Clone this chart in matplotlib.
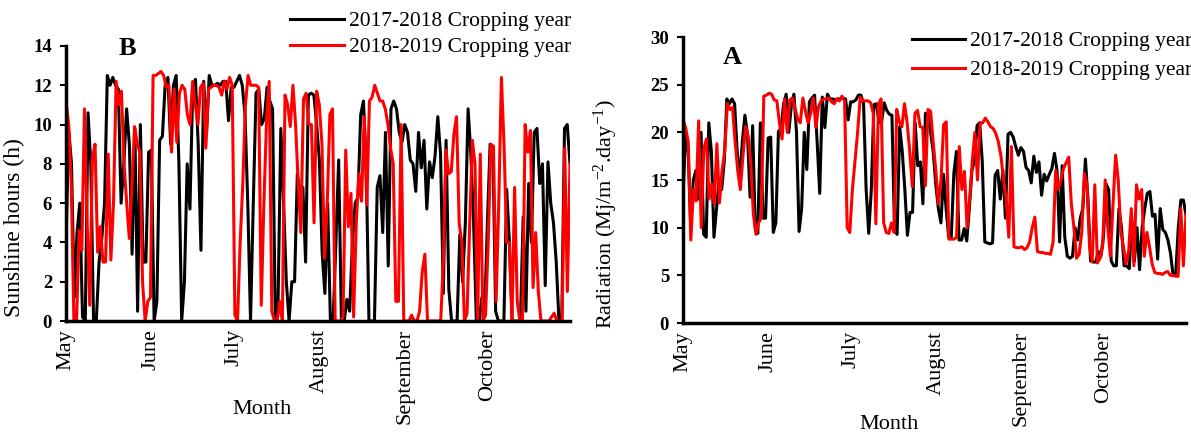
import numpy as np
import matplotlib
matplotlib.use("Agg")
import matplotlib.pyplot as plt

plt.rcParams['font.family'] = ['Liberation Serif', 'DejaVu Serif']
plt.rcParams['mathtext.fontset'] = 'custom'
plt.rcParams['mathtext.rm'] = 'Liberation Serif'
plt.rcParams['mathtext.it'] = 'Liberation Serif:italic'

months = ["May", "June", "July", "August", "September", "October"]
month_start_day = [0, 31, 61, 92, 123, 153]
n_days = 184
series_names = ["2017-2018 Cropping year", "2018-2019 Cropping year"]

sun_2017 = [4, 9.7, 8, 1.2, 4.5, 6, 0.2, 0, 10.6, 8,
            0, 0, 3, 4.2, 6, 12.5, 12, 12.4, 12, 11.8,
            6, 8, 10.8, 9, 3.4, 9.8, 0.5, 10, 3, 3,
            8.6, 8.7, 0, 1, 9.2, 9.4, 12, 12.4, 9, 12,
            12.5, 8, 0, 2, 8, 5.7, 11.8, 12.3, 9, 3.6,
            12.2, 9.5, 12.5, 12, 12, 12.1, 12, 12.2, 12.2, 10.2,
            11.9, 11.9, 12.2, 12.5, 12, 10.5, 6, 0, 6, 11.6,
            11.8, 10, 10.3, 11.9, 11.2, 10.8, 0, 1, 9.8, 6,
            2, 0, 2, 2, 7.5, 6.5, 6.8, 3, 11.5, 11.6,
            11.5, 10, 8.2, 3.5, 1.4, 6, 0, 0, 4, 8.2,
            0, 0, 1.1, 0.5, 4, 6, 6.3, 10.5, 11.2, 8,
            0, 0, 0, 6.8, 7.4, 4.5, 9.6, 2.8, 10.8, 11.2,
            10.8, 9.6, 9.1, 10, 9.6, 8.2, 8, 6.6, 9.6, 7.8,
            9.2, 5.7, 8.1, 7.3, 8.4, 10.4, 8.5, 1.4, 9.2, 1.6,
            0, 0, 0, 4.4, 2, 5, 10.8, 8.5, 5, 0,
            0, 1.2, 0.2, 5, 9, 8.8, 0.5, 0, 0, 0,
            6.7, 4, 0, 0, 0, 0, 5.3, 0.5, 7, 4,
            9.6, 9.8, 7, 8, 1.8, 8.1, 6, 5, 3, 0,
            0, 9.8, 10, 8]

sun_2018 = [11.2, 10, 7, 0, 0, 4.6, 3.6, 10.8, 5, 0.8,
            8.3, 9, 3.5, 4.8, 3, 3, 8.5, 3.1, 6, 12.2,
            11, 11.7, 8, 6, 4.2, 7, 9.9, 9, 8.6, 2,
            0, 1, 1.2, 12.5, 12.5, 12.6, 12.7, 12.5, 11.9, 12,
            8.6, 11.8, 9.1, 11.6, 12, 11.8, 10.5, 10, 12.2, 11,
            10, 11.9, 12.1, 8.8, 11.8, 11.9, 12, 12, 11.9, 11.5,
            12.2, 11.8, 12.4, 12, 0.3, 0, 4, 7, 11, 12.5,
            12, 12, 12, 11.9, 0.8, 6, 10.2, 12.2, 0.5, 0,
            0, 1, 0, 11.5, 11, 9.9, 12, 10, 7, 4.5,
            11.3, 11.6, 10, 10, 5, 11.7, 11, 9, 3.2, 6,
            10.5, 10.8, 0, 0, 0, 0.2, 8.7, 4.8, 6.5, 0.2,
            5, 7.5, 6.1, 10.4, 5.9, 11.2, 11.4, 12, 11.6, 11.2,
            11.2, 10.8, 10, 8.8, 8, 1, 1, 10, 0, 0,
            0, 0.3, 0, 0, 0.5, 2.5, 3.4, 0, 0, 0,
            0, 0, 0, 3, 8.7, 7.5, 7.6, 9.5, 10.4, 5,
            4, 0, 0.4, 5, 9.2, 8, 0, 8.5, 0, 0.3,
            4, 9, 8.9, 1, 6, 12.4, 9, 4, 4, 0,
            6.8, 1, 0, 0, 10, 8.6, 9.7, 1.7, 4.5, 1.5,
            0, 0, 0, 0, 0.2, 0.4, 0, 0, 0, 8.8,
            1.5, 8]

rad_2017 = [13.2, 19.8, 18, 10, 15, 16, 13, 20, 9.3, 9,
            21, 18, 9, 12, 15, 14, 17, 23.5, 23, 23.5,
            23, 18, 15, 19, 21.8, 19.8, 13.2, 20.7, 10, 9.4,
            21, 11, 11, 19.4, 19.5, 9.5, 10.5, 20.1, 20.4, 23,
            24, 20, 22.8, 24, 20, 9.6, 12, 20, 16.1, 23.2,
            23.6, 23.9, 19, 13.6, 23.7, 20.5, 24, 23.5, 23.5, 23.4,
            23.5, 23.5, 23.6, 23.5, 21.3, 23.2, 23.2, 23.4, 23.9, 23.9,
            23, 14, 9.4, 14, 22.9, 23, 21, 21.1, 23.1, 22.3,
            21.9, 21.8, 9.8, 9.3, 20.6, 18, 14, 9.2, 11.6, 11.6,
            21, 16.5, 16.9, 12.5, 22, 21.8, 20, 18, 14.5, 12,
            10.5, 15.6, 12, 9, 9, 15.7, 18, 8.7, 8.7, 9.9,
            8.6, 12, 16, 17, 20.7, 21, 17, 8.5, 8.4, 8.3,
            8.4, 15.5, 16, 13, 16, 11, 19.8, 20, 19.5, 18.5,
            17.6, 18.4, 18, 16.3, 16, 14.7, 17.5, 15.8, 16.9, 13.4,
            15.6, 14.9, 15.6, 16.2, 17.8, 16, 8.5, 16.5, 9, 7,
            6.8, 7, 10, 8.7, 11, 12, 17.2, 13, 6.5, 6.4,
            6.4, 7.5, 7, 9, 14.6, 14, 6.5, 6, 6, 12,
            10, 6, 6, 5.7, 10.8, 6.5, 10, 5.6, 10, 12,
            13.6, 13.8, 11.2, 11.4, 6.7, 12, 9.8, 9.5, 8.7, 7.3,
            5, 5, 10, 12.9, 12.9, 11.3]

rad_2018 = [21.3, 20.5, 19, 8.7, 14, 12.8, 21.2, 10, 18.3, 19.3,
            13, 14.6, 12.5, 18.8, 12.6, 16, 18, 23, 22.4, 22.6,
            19, 16, 14, 17.5, 20.6, 19.6, 16.8, 11.4, 9.3, 10.5,
            11, 23.8, 23.9, 24.1, 24, 23.4, 23.3, 21, 19.3, 23.5,
            20, 23.4, 23.6, 22.5, 21.4, 21, 23.6, 22.2, 21, 22,
            23.6, 20.5, 22.7, 23.3, 23.5, 23.5, 23.6, 23.2, 23, 23.5,
            23.3, 23.8, 23.3, 10, 9.5, 14, 17, 20, 23.7, 23.3,
            23.3, 23.3, 23.1, 22, 10.4, 23, 23.5, 10.5, 9.5, 9.4,
            10.5, 9.5, 22.4, 21.1, 20.6, 23, 21, 18, 14.3, 22,
            22.3, 20.6, 20.5, 14.4, 22.4, 22.2, 19, 16, 12.5, 15,
            20.8, 21.1, 8.8, 8.8, 8.8, 9, 18.5, 14, 15.9, 10,
            13, 17, 20, 15, 21, 21, 21.5, 21.1, 20.6, 20.4,
            19.9, 19, 17.5, 15, 13, 9, 18.5, 8, 7.9, 7.9,
            8, 7.7, 7.9, 8.5, 10, 11.1, 7.5, 7.4, 7.4, 7.3,
            7.3, 7.2, 8.5, 16, 14, 15, 16.2, 16.8, 17.4, 12.5,
            10, 6.8, 7.2, 9.5, 15.7, 14.5, 8, 6.4, 14.5, 6.3,
            6.8, 8, 15, 10, 7, 12.5, 17.6, 15, 9.5, 8,
            6.2, 7.5, 12, 6, 14.5, 13, 14, 7, 9.5, 8,
            6.2, 5.3, 5.2, 5.2, 5.1, 5.3, 5.4, 5, 5, 4.9,
            4.9, 12, 6, 11.4]

W, H = 1191, 434
fig = plt.figure(figsize=(W / 100, H / 100), dpi=100)

def px_axes(x0, x1, y0, y1):
    return fig.add_axes([x0 / W, 1 - y1 / H, (x1 - x0) / W, (y1 - y0) / H])

axL = px_axes(66, 570, 46, 321)
axR = px_axes(683, 1186, 37, 323)

def days_for(v):
    return np.linspace(0, n_days - 1, len(v))

lw = 2.2
for ax, blk, red in [(axL, sun_2017, sun_2018), (axR, rad_2017, rad_2018)]:
    ax.plot(days_for(blk), blk, color='black', lw=lw, label=series_names[0])
    ax.plot(days_for(red), red, color='#ff0000', lw=lw, label=series_names[1])
    ax.set_xlim(0, n_days - 1)
    ax.set_xticks(month_start_day)
    ax.set_xticklabels(months, rotation=90, fontsize=16)
    ax.tick_params(axis='x', length=0, pad=6)
    ax.tick_params(axis='y', length=4, width=1.5, direction='out', pad=6)
    for s in ['top', 'right']:
        ax.spines[s].set_visible(False)
    for s in ['left', 'bottom']:
        ax.spines[s].set_linewidth(2.5)

axL.set_ylim(0, 14)
axL.set_yticks(range(0, 15, 2))
axR.set_ylim(0, 30)
axR.set_yticks(range(0, 31, 5))
for ax in (axL, axR):
    for lab in ax.get_yticklabels():
        lab.set_fontweight('bold')
        lab.set_fontsize(13.5)

axL.set_ylabel("Sunshine hours (h)", fontsize=17)
axL.yaxis.set_label_coords(-0.081, 0.34)
axL.set_xlabel("Month", fontsize=16)
axL.xaxis.set_label_coords(0.389, -0.287)

axR.set_ylabel(r"Radiation (Mj/m$^{-2}$.day$^{-1}$)", fontsize=16)
axR.yaxis.set_label_coords(-0.125, 0.38)
axR.set_xlabel("Month", fontsize=16)
axR.xaxis.set_label_coords(0.41, -0.322)

axL.text(0.121, 0.99, "B", transform=axL.transAxes, fontsize=19, fontweight='bold',
         ha='center', va='center')
axR.text(0.099, 0.93, "A", transform=axR.transAxes, fontsize=19, fontweight='bold',
         ha='center', va='center')

legL = fig.legend(*axL.get_legend_handles_labels(), loc='upper left',
                  bbox_to_anchor=(290 / W, 1 - 11 / H), frameon=False,
                  fontsize=15.5, handlelength=2.5, handletextpad=0.25, labelspacing=0.28,
                  borderaxespad=0, borderpad=0)
legR = fig.legend(*axR.get_legend_handles_labels(), loc='upper left',
                  bbox_to_anchor=(912 / W, 1 - 31 / H), frameon=False,
                  fontsize=15.5, handlelength=2.45, handletextpad=0.25, labelspacing=0.42,
                  borderaxespad=0, borderpad=0)

fig.savefig("out.png", dpi=100)
